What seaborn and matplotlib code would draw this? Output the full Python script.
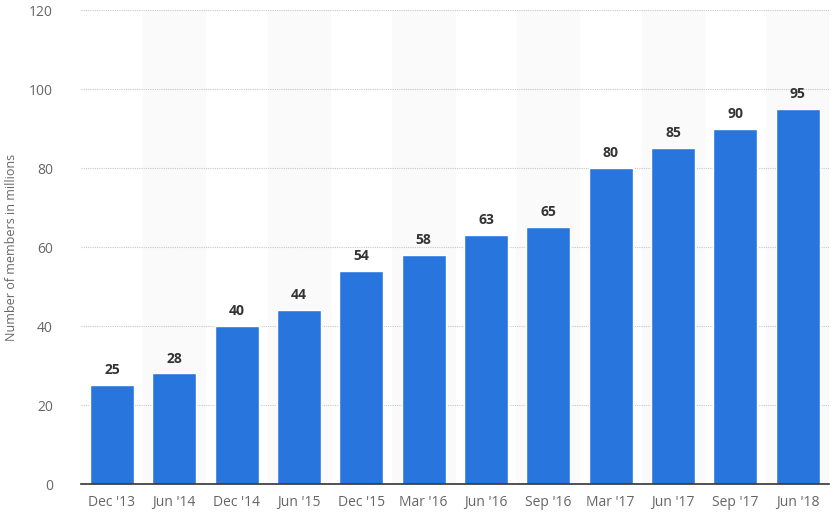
import pandas as pd
import matplotlib
matplotlib.use("Agg")
import matplotlib.pyplot as plt
import seaborn as sns

periods = ["Dec '13", "Jun '14", "Dec '14", "Jun '15", "Dec '15", "Mar '16",
           "Jun '16", "Sep '16", "Mar '17", "Jun '17", "Sep '17", "Jun '18"]
members = [25, 28, 40, 44, 54, 58, 63, 65, 80, 85, 90, 95]
y_ticks = [0, 20, 40, 60, 80, 100, 120]

df = pd.DataFrame({"Period": periods, "Members": members})

sns.set_theme(style="white")
plt.rcParams['font.family'] = ['Open Sans', 'DejaVu Sans']

fig = plt.figure(figsize=(8.33, 5.29), dpi=100)
ax = fig.add_axes([0.097, 0.085, 0.898, 0.896])

# alternating background bands
for i in range(len(periods)):
    if i % 2 == 1:
        ax.axvspan(i - 0.5, i + 0.5, color="#fafafa", zorder=0)

sns.barplot(data=df, x="Period", y="Members", color="#2876dd", width=0.71,
            saturation=1, ax=ax, zorder=3)

for i, v in enumerate(members):
    ax.text(i, v + 2, str(v), ha="center", va="bottom", fontsize=10,
            fontweight="bold", color="#333333", zorder=4)

ax.set_ylim(0, 120)
ax.set_xlim(-0.5, len(periods) - 0.5)
ax.set_yticks(y_ticks)
ax.yaxis.grid(True, linestyle=(0, (1, 1)), color="#c8c8c8", linewidth=0.8, zorder=1)
ax.set_axisbelow(True)

for side in ["top", "right", "left"]:
    ax.spines[side].set_visible(False)
ax.spines["bottom"].set_color("#333333")
ax.spines["bottom"].set_linewidth(1.2)
ax.spines["bottom"].set_zorder(5)

ax.tick_params(axis="both", length=0, labelsize=10, labelcolor="#666666")
ax.tick_params(axis="x", pad=8)
ax.tick_params(axis="y", pad=20)
ax.set_xlabel("")
ax.set_ylabel("Number of members in millions", fontsize=9, color="#666666", labelpad=8)

fig.savefig("out.png", dpi=100)
